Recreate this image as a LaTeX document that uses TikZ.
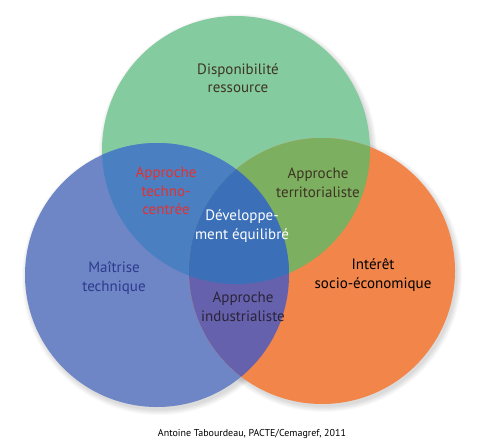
\documentclass[tikz,border=0pt]{standalone}
\usepackage{fontspec}
\setmainfont{PT Sans}
\definecolor{cgreen}{HTML}{84CB9F}
\definecolor{cblue}{HTML}{6E86C6}
\definecolor{corange}{HTML}{F2854A}
\definecolor{cgb}{HTML}{4A80C2}
\definecolor{cgo}{HTML}{7CAF60}
\definecolor{cbo}{HTML}{6561AD}
\definecolor{call}{HTML}{3B70B9}
\definecolor{cred}{HTML}{E5302F}
\definecolor{cbrown}{HTML}{3E3422}
\definecolor{cdblue}{HTML}{2C3A8E}
\definecolor{cdark}{HTML}{2A2438}
\tikzset{
  lbl/.style={align=center, font=\fontsize{15}{18.5}\selectfont, inner sep=0pt},
}
\begin{document}
\begin{tikzpicture}[x=1pt,y=-1pt]
\useasboundingbox (0,0) rectangle (494,439);
\fill[white] (0,0) rectangle (494,439);
\def\G{(236,150) circle[radius=134pt]}
\def\B{(157,275) circle[radius=132pt]}
\def\O{(322,271) circle[radius=133pt]}
% soft shadows
\foreach \k in {1,...,6}{
  \fill[black,opacity=0.025] (236+2,150+3) circle[radius={(133+\k)*1pt}];
  \fill[black,opacity=0.025] (157+2,275+3) circle[radius={(131+\k)*1pt}];
  \fill[black,opacity=0.025] (322+2,271+3) circle[radius={(132+\k)*1pt}];
}
% single regions
\fill[cgreen] \G;
\fill[cblue] \B;
\fill[corange] \O;
% pairwise
\begin{scope}\clip \G; \fill[cgb] \B; \end{scope}
\begin{scope}\clip \G; \fill[cgo] \O; \end{scope}
\begin{scope}\clip \B; \fill[cbo] \O; \end{scope}
% triple
\begin{scope}\clip \G; \clip \B; \fill[call] \O; \end{scope}
% labels
\node[lbl, text=cbrown] (dispo) at (238,78) {Disponibilité\\ressource};
\node[lbl, text=cred] (techno) at (166,191) {Approche\\techno-\\centrée};
\node[lbl, text=cbrown] (terr) at (318,183) {Approche\\territorialiste};
\node[lbl, text=white] (dev) at (242,226) {Développe-\\ment équilibré};
\node[lbl, text=cdblue] (maitrise) at (114,278) {Maîtrise\\technique};
\node[lbl, text=black] (interet) at (373,275) {Intérêt\\socio-économique};
\node[lbl, text=cdark] (indus) at (243,307) {Approche\\industrialiste};
\node[inner sep=0pt, font=\fontsize{10}{12}\selectfont, text=black] (credit) at (252,434) {Antoine Tabourdeau, PACTE/Cemagref, 2011};
\end{tikzpicture}
\end{document}
